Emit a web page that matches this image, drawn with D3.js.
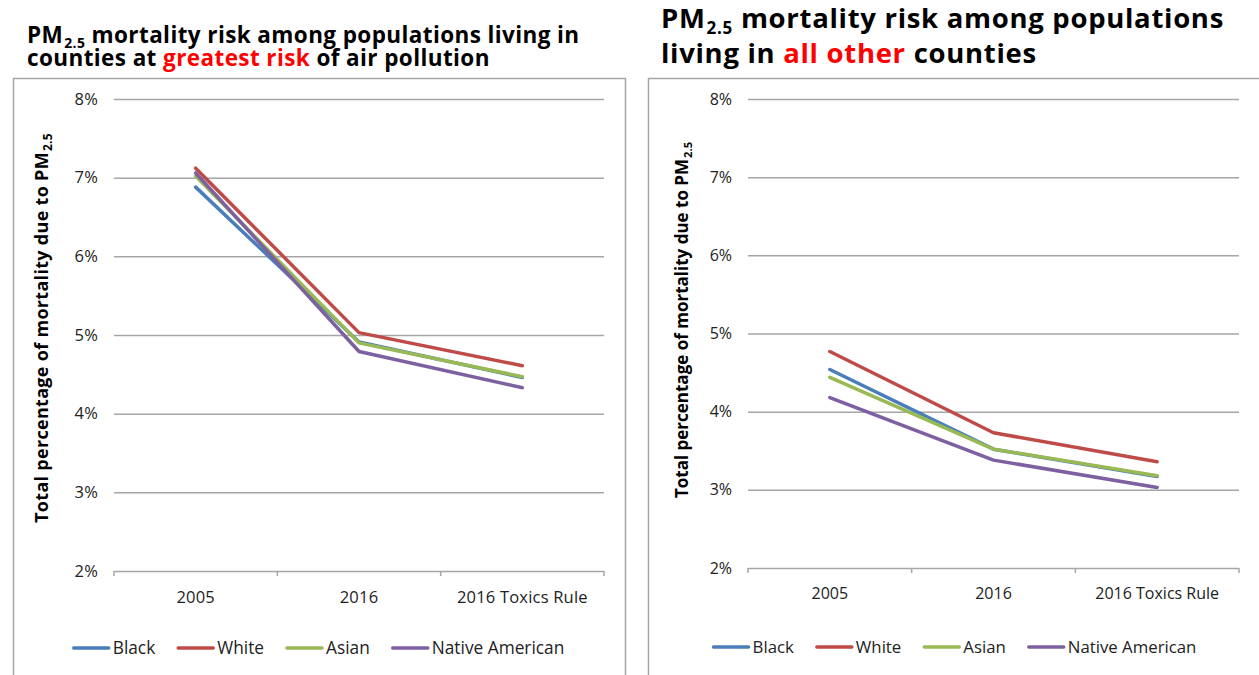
<!DOCTYPE html>
<html>
<head>
<meta charset="utf-8">
<script src="https://cdn.jsdelivr.net/npm/d3@7"></script>
<style>
  html, body { margin: 0; padding: 0; background: #fff; }
  svg { display: block; }
</style>
</head>
<body>
<svg id="chart" width="1259" height="675"></svg>
<script>
// Category labels along the x axis
const categories = ["2005", "2016", "2016 Toxics Rule"];
// Population groups, in drawing order
const seriesNames = ["Black", "White", "Asian", "Native American"];
const seriesColors = ["#4a7ebb", "#be4b48", "#98b954", "#7d60a0"];
// Percent of mortality due to PM2.5, one row per group (Black, White, Asian, Native American)
const greatestRiskValues = [
  [6.88, 4.91, 4.46],
  [7.12, 5.03, 4.61],
  [7.02, 4.90, 4.47],
  [7.06, 4.79, 4.33]
];
const allOtherValues = [
  [4.54, 3.52, 3.17],
  [4.77, 3.73, 3.36],
  [4.44, 3.52, 3.18],
  [4.18, 3.38, 3.03]
];
const yTicks = [2, 3, 4, 5, 6, 7, 8];

const svg = d3.select("#chart");
const FONT = "'Open Sans', Lato, sans-serif";

const panels = [
  {
    values: greatestRiskValues,
    frame: { x: 13, y: 78, w: 612 },
    plot: { left: 114, right: 604, top: 99, bottom: 571 },
    titleX: 27, titleY: [43, 66], titleSize: 22.5, titleSpacing: 0.4,
    titleLines: [
      [{ t: "PM" }, { t: "2.5", sub: true }, { t: " mortality risk among populations living in" }],
      [{ t: "counties at " }, { t: "greatest risk", red: true }, { t: " of air pollution" }]
    ],
    tickSize: 16.5, tickSpacing: 0.2,
    axisTitleX: 48, axisTitleY: 328, axisTitleSize: 18, axisTitleSpacing: 0.3,
    legendY: 648, legendSize: 17.3
  },
  {
    values: allOtherValues,
    frame: { x: 648, y: 78, w: 614 },
    plot: { left: 748, right: 1239, top: 99, bottom: 568 },
    titleX: 661, titleY: [28, 63], titleSize: 27.5, titleSpacing: 0.7,
    titleLines: [
      [{ t: "PM" }, { t: "2.5", sub: true }, { t: " mortality risk among populations" }],
      [{ t: "living in " }, { t: "all other", red: true }, { t: " counties" }]
    ],
    tickSize: 16, tickSpacing: 0,
    axisTitleX: 688, axisTitleY: 320, axisTitleSize: 17, axisTitleSpacing: 0,
    legendY: 647, legendSize: 16.8
  }
];

panels.forEach(p => {
  const g = svg.append("g").style("font-family", FONT);

  // Chart frame (bottom edge runs past the visible area)
  g.append("rect")
    .attr("x", p.frame.x + 0.5).attr("y", p.frame.y + 0.5)
    .attr("width", p.frame.w).attr("height", 700)
    .attr("fill", "none").attr("stroke", "#a6a6a6").attr("stroke-width", 1.5);

  // Title, two lines with red emphasis and PM subscript
  p.titleLines.forEach((line, li) => {
    const title = g.append("text")
      .attr("x", p.titleX).attr("y", p.titleY[li])
      .attr("font-weight", "bold")
      .attr("font-size", p.titleSize)
      .attr("letter-spacing", p.titleSpacing)
      .attr("fill", "#000");
    line.forEach((seg, si) => {
      const ts = title.append("tspan").text(seg.t);
      if (seg.sub) ts.attr("font-size", p.titleSize * 0.62).attr("dy", p.titleSize * 0.22).attr("dx", 1);
      else if (si > 0 && line[si - 1].sub) ts.attr("dy", -p.titleSize * 0.22);
      if (seg.red) ts.attr("fill", "#ff0000");
    });
  });

  const x = d3.scaleBand().domain(categories).range([p.plot.left, p.plot.right]);
  const y = d3.scaleLinear().domain([2, 8]).range([p.plot.bottom, p.plot.top]);

  // Horizontal gridlines with percent labels
  const yAxis = d3.axisLeft(y)
    .tickValues(yTicks)
    .tickSize(-(p.plot.right - p.plot.left))
    .tickPadding(16)
    .tickFormat(d => d + "%");
  const yg = g.append("g")
    .attr("transform", `translate(${p.plot.left},0)`)
    .call(yAxis);
  yg.select(".domain").remove();
  yg.selectAll(".tick line").attr("stroke", "#a6a6a6").attr("stroke-width", 1.5);
  yg.selectAll(".tick text")
    .attr("font-size", p.tickSize).attr("fill", "#222")
    .attr("letter-spacing", p.tickSpacing)
    .attr("font-family", FONT);

  // Category axis: tick marks on band edges, labels centered in bands
  const edges = categories.map(c => x(c)).concat([p.plot.right]);
  g.selectAll(".edge").data(edges).join("line")
    .attr("x1", d => d).attr("x2", d => d)
    .attr("y1", p.plot.bottom).attr("y2", p.plot.bottom + 5)
    .attr("stroke", "#a6a6a6").attr("stroke-width", 1.5);
  const xAxis = d3.axisBottom(x).tickSize(0).tickPadding(20);
  const xg = g.append("g")
    .attr("transform", `translate(0,${p.plot.bottom})`)
    .call(xAxis);
  xg.select(".domain").remove();
  xg.selectAll(".tick text")
    .attr("font-size", p.tickSize).attr("fill", "#222")
    .attr("letter-spacing", p.tickSpacing)
    .attr("font-family", FONT);

  // Rotated y-axis title
  const at = g.append("text")
    .attr("transform", `translate(${p.axisTitleX},${p.axisTitleY}) rotate(-90)`)
    .attr("text-anchor", "middle")
    .attr("font-weight", "bold")
    .attr("font-size", p.axisTitleSize)
    .attr("letter-spacing", p.axisTitleSpacing)
    .attr("fill", "#000");
  at.append("tspan").text("Total percentage of mortality due to PM");
  at.append("tspan").text("2.5").attr("font-size", p.axisTitleSize * 0.66).attr("dy", 4).attr("dx", 1);

  // Series lines
  const line = d3.line()
    .x((d, i) => x(categories[i]) + x.bandwidth() / 2)
    .y(d => y(d));
  g.selectAll(".series").data(p.values).join("path")
    .attr("d", d => line(d))
    .attr("fill", "none")
    .attr("stroke", (d, i) => seriesColors[i])
    .attr("stroke-width", 3.5)
    .attr("stroke-linejoin", "round")
    .attr("stroke-linecap", "round");

  // Legend, centered under the frame
  const lg = g.append("g");
  let cx = 0;
  seriesNames.forEach((name, i) => {
    const item = lg.append("g").attr("transform", `translate(${cx},0)`);
    item.append("line")
      .attr("x1", 0).attr("x2", 35).attr("y1", 0).attr("y2", 0)
      .attr("stroke", seriesColors[i]).attr("stroke-width", 3.5)
      .attr("stroke-linecap", "round");
    const t = item.append("text")
      .attr("x", 39).attr("y", 6)
      .attr("font-size", p.legendSize).attr("fill", "#222")
      .text(name);
    cx += 39 + t.node().getComputedTextLength() + 23;
  });
  const legendWidth = cx - 23;
  lg.attr("transform", `translate(${p.frame.x + p.frame.w / 2 - legendWidth / 2},${p.legendY})`);
});
</script>
</body>
</html>
